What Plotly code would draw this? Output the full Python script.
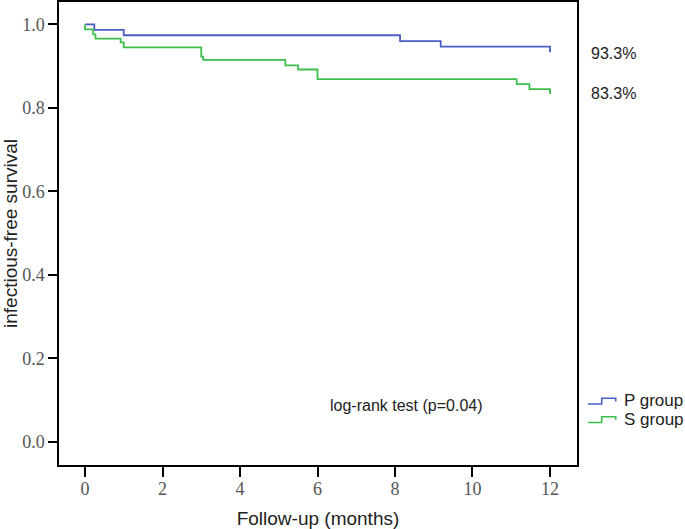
import plotly.graph_objects as go

# Kaplan-Meier step data (months, survival proportion)
p_time = [0.0, 0.24, 1.0, 8.13, 9.18, 12.0]
p_surv = [1.0, 0.987, 0.974, 0.960, 0.947, 0.933]

s_time = [0.0, 0.0, 0.21, 0.27, 0.92, 1.0, 3.0, 3.05, 5.17, 5.5, 6.0, 11.14, 11.47, 12.0]
s_surv = [1.0, 0.988, 0.976, 0.966, 0.957, 0.945, 0.923, 0.915, 0.902, 0.892, 0.869, 0.857, 0.845, 0.833]

group_names = ["P group", "S group"]
group_colors = ["#4A5EC4", "#3EBE4C"]
end_labels = ["93.3%", "83.3%"]

x_ticks = [0, 2, 4, 6, 8, 10, 12]
y_ticks = [0.0, 0.2, 0.4, 0.6, 0.8, 1.0]

fig = go.Figure()
for t, s, name, col in zip([p_time, s_time], [p_surv, s_surv], group_names, group_colors):
    fig.add_trace(go.Scatter(x=t, y=s, mode="lines", line=dict(shape="hv", color=col, width=1.8),
                             name=name, showlegend=False, hoverinfo="skip"))

W, H = 685, 529
ml, mr, mt, mb = 59, 108, 2, 64
pw, ph = W - ml - mr, H - mt - mb

def px_x(px):
    return (px - ml) / pw

def px_y(py):
    return (H - mb - py) / ph

tick_font = dict(family="Liberation Serif, Times New Roman, serif", size=18, color="#555555")
title_font = dict(family="Liberation Sans, Arial, sans-serif", size=19, color="#222222")
ann_font = dict(family="Liberation Sans, Arial, sans-serif", size=16, color="#222222")

fig.update_layout(
    width=W, height=H,
    margin=dict(l=ml, r=mr, t=mt, b=mb, autoexpand=False),
    plot_bgcolor="white", paper_bgcolor="white",
    showlegend=False,
    xaxis=dict(range=[-0.671, 12.697], tickvals=x_ticks, ticktext=[str(v) for v in x_ticks],
               ticks="outside", ticklen=10, tickwidth=2, tickcolor="black",
               showline=True, linecolor="black", linewidth=1.5, mirror=True,
               showgrid=False, zeroline=False, tickfont=tick_font, automargin=False,
               ticklabelstandoff=-3,
               title=dict(text="Follow-up (months)", font=title_font, standoff=13)),
    yaxis=dict(range=[-0.0558, 1.0537], tickvals=y_ticks, ticktext=[f"{v:.1f}" for v in y_ticks],
               ticks="outside", ticklen=9, tickwidth=2, tickcolor="black",
               showline=True, linecolor="black", linewidth=1.5, mirror=True,
               showgrid=False, zeroline=False, tickfont=tick_font, automargin=False,
               title=dict(text="infectious-free survival", font=title_font, standoff=6)),
)

# end-of-curve percentages
for lab, yy in zip(end_labels, [53.3, 93.3]):
    fig.add_annotation(text=lab, xref="paper", yref="paper", x=px_x(589), y=px_y(yy),
                       xanchor="left", yanchor="middle", showarrow=False, font=ann_font)

fig.add_annotation(text="log-rank test (p=0.04)", xref="paper", yref="paper",
                   x=px_x(406.7), y=px_y(405), xanchor="center", yanchor="middle",
                   showarrow=False, font=ann_font)

# custom step-style legend
for i, (name, col) in enumerate(zip(group_names, group_colors)):
    base = 404 + i * 18.5
    pts = [(588, base), (601.7, base), (601.7, base - 5.7), (615.7, base - 5.7), (615.7, base - 2.4)]
    path = "M " + " L ".join(f"{px_x(a):.5f},{px_y(b):.5f}" for a, b in pts)
    fig.add_shape(type="path", path=path, xref="paper", yref="paper",
                  line=dict(color=col, width=1.6))
    fig.add_annotation(text=name, xref="paper", yref="paper", x=px_x(622), y=px_y(base - 3.5),
                       xanchor="left", yanchor="middle", showarrow=False,
                       font=dict(family="Liberation Sans, Arial, sans-serif", size=17, color="#222222"))

fig.write_html("out.html", config={"displayModeBar": False},
               post_script="document.body.style.margin='0';document.body.style.padding='0';")
